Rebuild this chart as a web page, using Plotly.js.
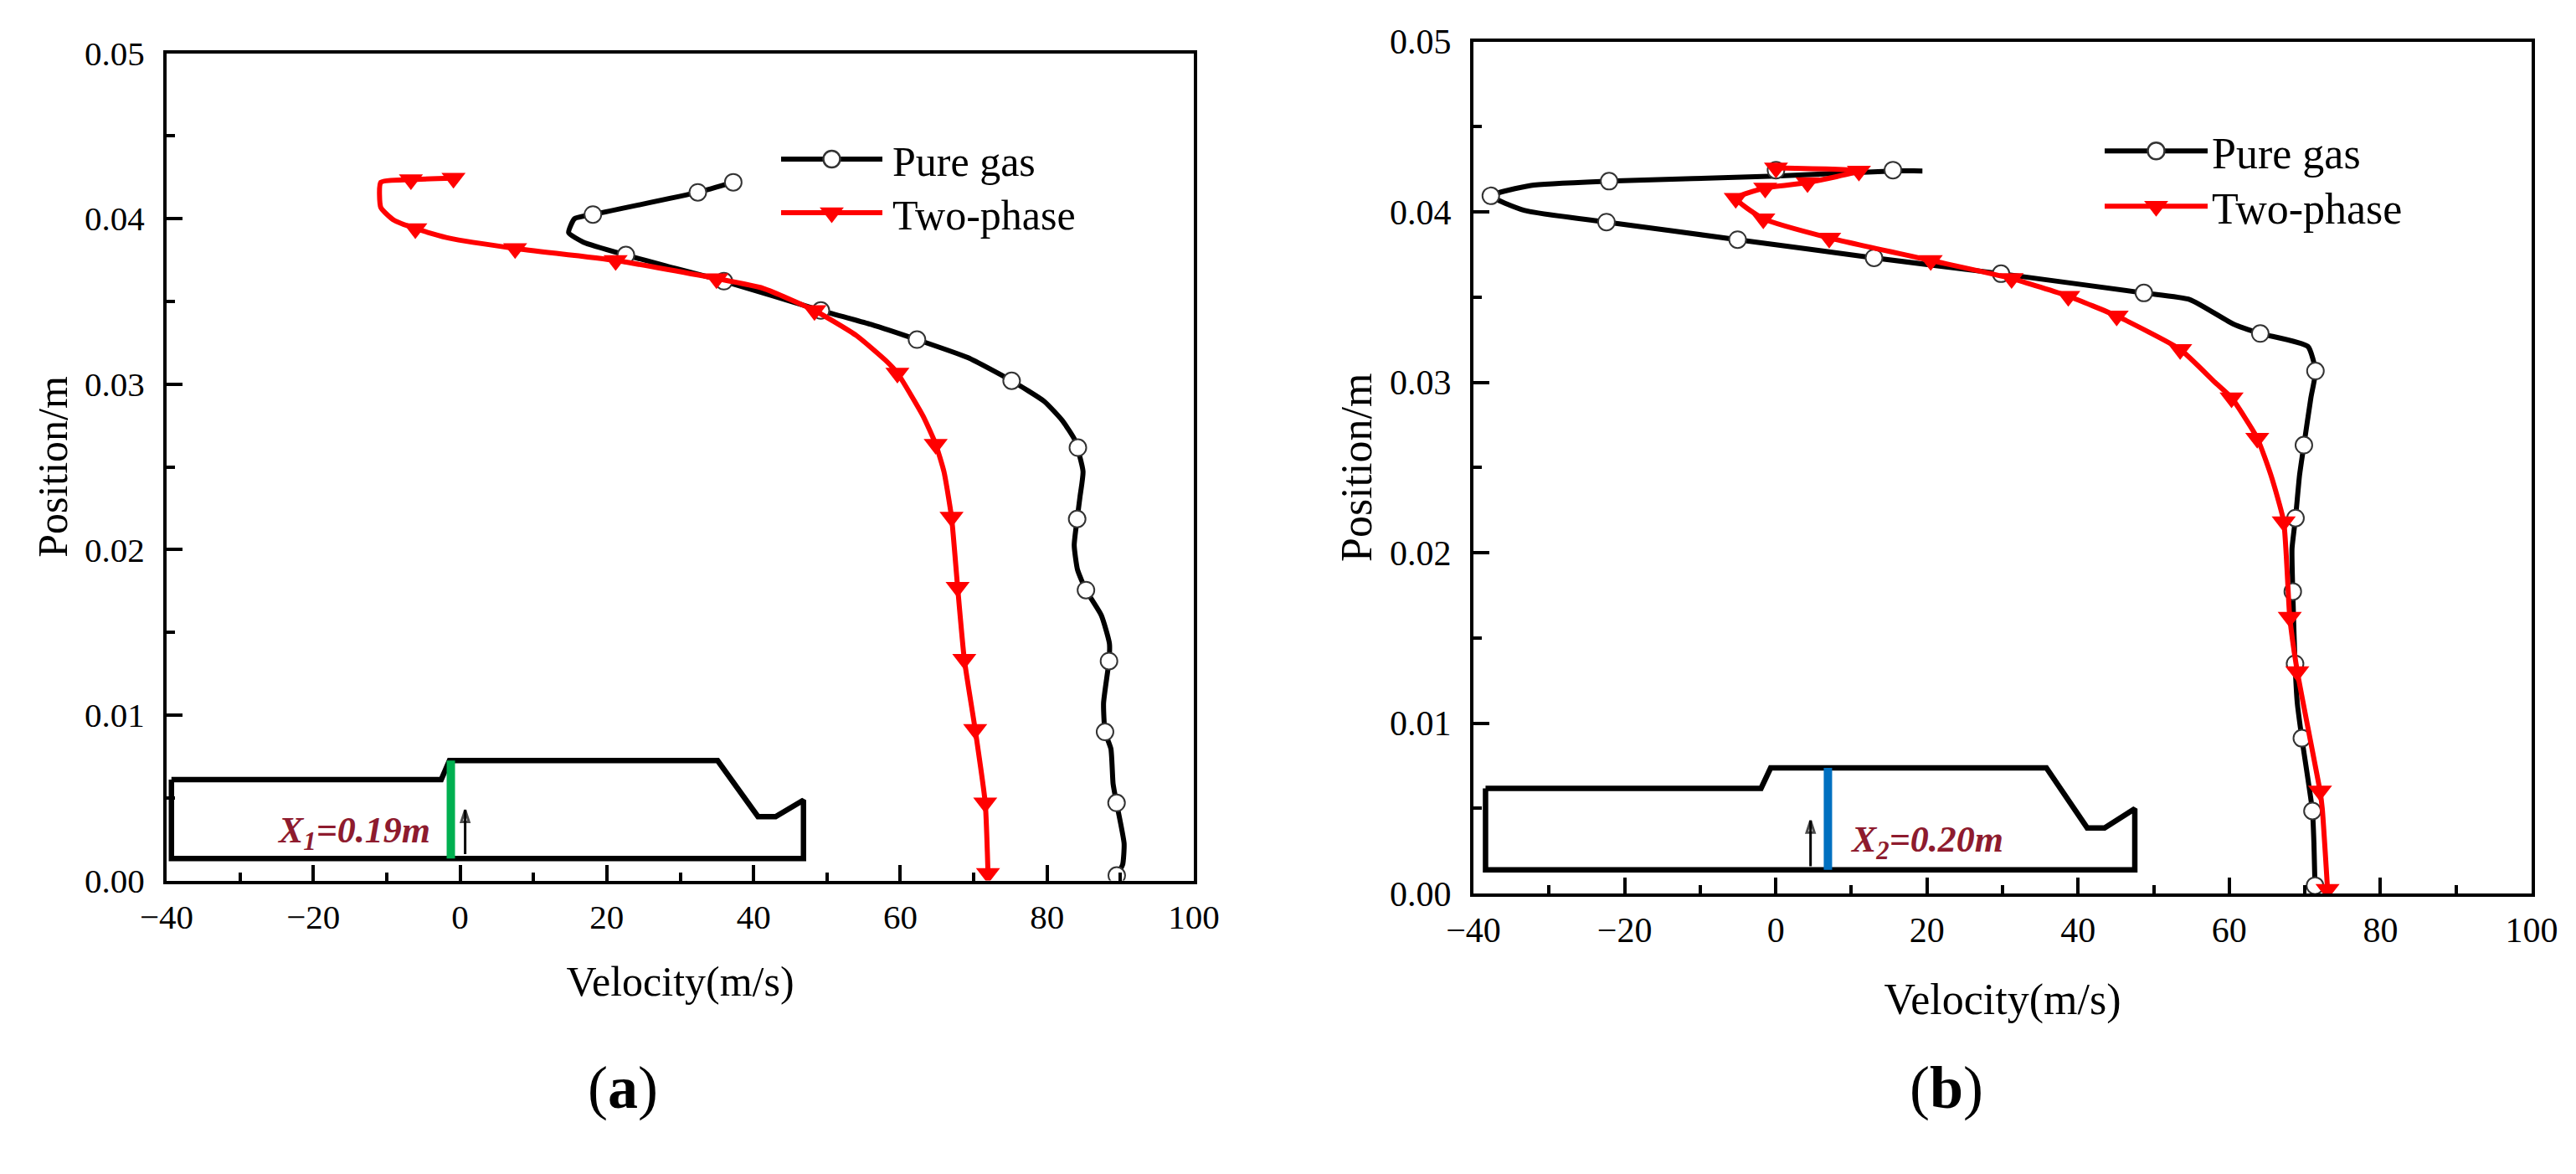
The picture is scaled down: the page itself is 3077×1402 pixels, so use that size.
<!DOCTYPE html>
<html>
<head>
<meta charset="utf-8">
<script src="https://cdn.plot.ly/plotly-3.0.1.min.js"></script>
<style>html,body{margin:0;padding:0;background:#fff}</style>
</head>
<body>
<div id="chart" style="width:3077px;height:1402px"></div>
<script>
// Panel (a): curve outlines
const aGasLineV = [37.23,32.4,18.1,15.6,14.8,16.8,22.6,28.1,35.96,49.17,56,62.27,69.2,75.17,79.6,82.07,83.8,84.9,84.5,84.1,83.7,84.15,85.3,87.4,88.5,88.44,87.7,87.9,88.7,89,89.47,90.5,90.3,89.5];
const aGasLineP = [.0422,.04159,.04025,.04,.03915,.03858,.0378,.03714,.03622,.03445,.03361,.03269,.0316,.0302,.02896,.0278,.0266,.02472,.02323,.02185,.02026,.01878,.01755,.01602,.01432,.01326,.01072,.00898,.00796,.00584,.00469,.00223,.00096,.0003];
const aTwoLineV = [-0.9,-6.7,-10.8,-10.8,-9,-6.1,-1.5,7.5,21.2,34.95,41.3,48.3,54,58,59.6,63.1,64.82,65.95,66.98,67.81,68.72,70.2,71.57,71.95];
const aTwoLineP = [.04245,.04236,.0422,.04067,.0399,.0394,.03882,.0382,.03747,.03638,.03579,.03445,.03294,.03143,.03067,.02807,.02637,.0247,.02196,.01772,.01337,.00913,.0047,.00043];
// Panel (a): symbols
const aGasMarkV = [37.23,32.4,18.1,22.6,35.96,49.17,62.27,75.17,84.2,84.1,85.3,88.44,87.9,89.47,89.5];
const aGasMarkP = [.0422,.04159,.04025,.0378,.03622,.03445,.03269,.0302,.02616,.02185,.01755,.01326,.00898,.00469,.0003];
const aTwoMarkV = [-0.9,-6.7,-6.1,7.5,21.2,34.95,48.3,59.6,64.82,66.98,67.81,68.72,70.2,71.57,71.95];
const aTwoMarkP = [.04245,.04236,.0394,.0382,.03747,.03638,.03445,.03067,.02637,.02196,.01772,.01337,.00913,.0047,.00043];

// Panel (b): curve outlines
const bGasLineV = [19.4,15.5,0,-22.05,-32.4,-37.7,-33.2,-22.4,-5.05,13,29.8,48.7,54.8,60.6,64.1,70.4,71.4,70.8,69.87,69.3,68.76,68.3,68.4,68.7,69,69.6,71,71.2,71.34];
const bGasLineP = [.0424,.0424,.0421,.0418,.04155,.04094,.04008,.0394,.03837,.0373,.03637,.03524,.03485,.0334,.03286,.0321,.03066,.0291,.02631,.02456,.02203,.02023,.01772,.01348,.01117,.00911,.00484,.00293,.00046];
const bTwoLineV = [0.03,11,4.2,-1.4,-5.3,-1.65,7.07,20.5,31.2,38.7,45.1,53.5,58.1,60.3,63.7,65.5,67.2,68,69,72,72.3,73];
const bTwoLineP = [.04258,.0424,.04172,.0414,.0408,.0396,.03847,.03715,.03609,.03505,.03389,.03193,.03,.02909,.02672,.02456,.02182,.01622,.01302,.00602,.00499,.00025];
// Panel (b): symbols
const bGasMarkV = [15.5,0.03,-22.05,-37.7,-22.4,-5.05,13,29.8,48.7,64.1,71.4,69.87,68.76,68.4,68.7,69.6,71,71.34];
const bGasMarkP = [.04245,.04245,.0418,.04094,.0394,.03837,.0373,.03637,.03524,.03286,.03066,.02631,.02203,.01772,.01348,.00911,.00484,.00046];
const bTwoMarkV = [0.03,11,4.2,-1.4,-5.3,-1.65,7.07,20.5,31.2,38.7,45.1,53.5,60.3,63.7,67.2,68,69,72,73];
const bTwoMarkP = [.04258,.0424,.04172,.0414,.0408,.0396,.03847,.03715,.03609,.03505,.03389,.03193,.02909,.02672,.02182,.01622,.01302,.00602,.00025];

// Nozzle schematics
const aNozzleV = [-39.34,-2.57,-1.45,35.1,40.6,43,46.8,46.8,-39.34,-39.34];
const aNozzleP = [.0061,.0061,.00725,.00725,.00386,.00386,.00486,.00133,.00133,.0061];
const bNozzleV = [-38.4,-1.95,-0.68,35.8,41.2,43.5,47.5,47.5,-38.4,-38.4];
const bNozzleP = [.00617,.00617,.00737,.00737,.00385,.00385,.00497,.00139,.00139,.00617];
const aStationV = [-1.26,-1.26], aStationP = [.00725,.00133];
const bStationV = [6.9,6.9], bStationP = [.00737,.00139];
const aArrowV = [.69,.69], aArrowP = [.0016,.00426];
const bArrowV = [4.6,4.6], bArrowP = [.0016,.00428];

const seriesNames = ['Pure gas','Two-phase'];
const xTickVals = [-40,-20,0,20,40,60,80,100];
const yTickVals = [0,.01,.02,.03,.04,.05];

const serif = '"Liberation Serif", "Times New Roman", serif';
const W = 3077, H = 1402;

function lineTrace(x,y,color,xa,ya,width,smooth){
  return {x,y,mode:'lines',type:'scatter',xaxis:xa,yaxis:ya,showlegend:false,hoverinfo:'skip',
          line:smooth?{color,width:width,shape:'spline',smoothing:0.5}:{color,width:width,shape:'linear'}};
}
function arrowTrace(x,y,xa,ya){
  return {x,y,mode:'lines+markers',type:'scatter',xaxis:xa,yaxis:ya,showlegend:false,hoverinfo:'skip',
          line:{color:'#000',width:3},
          marker:{symbol:'arrow-open',size:[0,15],angle:0,color:'#000',line:{color:'#000',width:3}}};
}
function gasMarks(x,y,xa,ya){
  return {x,y,mode:'markers',type:'scatter',xaxis:xa,yaxis:ya,showlegend:false,
          marker:{symbol:'circle',size:20,color:'#fff',line:{color:'#333',width:2}}};
}
function twoMarks(x,y,xa,ya){
  return {x,y,mode:'markers',type:'scatter',xaxis:xa,yaxis:ya,showlegend:false,
          marker:{symbol:'triangle-down',size:25,color:'#ff0000',line:{width:0}}};
}
function key(name,color,marker,xa,ya,legend){
  return {x:[null],y:[null],name,mode:'lines+markers',type:'scatter',xaxis:xa,yaxis:ya,legend,
          line:{color,width:5},marker};
}
const gasKey = {symbol:'circle',size:16,color:'#fff',line:{color:'#333',width:2}};
const twoKey = {symbol:'triangle-down',size:16,color:'#ff0000',line:{width:0}};

const data = [
  lineTrace(aNozzleV,aNozzleP,'#000','x','y',6.5,false),
  lineTrace(aStationV,aStationP,'#00b050','x','y',10,false),
  arrowTrace(aArrowV,aArrowP,'x','y'),
  lineTrace(aGasLineV,aGasLineP,'#000','x','y',6,true),
  gasMarks(aGasMarkV,aGasMarkP,'x','y'),
  lineTrace(aTwoLineV,aTwoLineP,'#ff0000','x','y',6,true),
  twoMarks(aTwoMarkV,aTwoMarkP,'x','y'),
  key(seriesNames[0],'#000',gasKey,'x','y','legend'),
  key(seriesNames[1],'#ff0000',twoKey,'x','y','legend'),

  lineTrace(bNozzleV,bNozzleP,'#000','x2','y2',6.5,false),
  lineTrace(bStationV,bStationP,'#0070c0','x2','y2',10,false),
  arrowTrace(bArrowV,bArrowP,'x2','y2'),
  lineTrace(bGasLineV,bGasLineP,'#000','x2','y2',6,true),
  gasMarks(bGasMarkV,bGasMarkP,'x2','y2'),
  lineTrace(bTwoLineV,bTwoLineP,'#ff0000','x2','y2',6,true),
  twoMarks(bTwoMarkV,bTwoMarkP,'x2','y2'),
  key(seriesNames[0],'#000',gasKey,'x2','y2','legend2'),
  key(seriesNames[1],'#ff0000',twoKey,'x2','y2','legend2')
];

function xAxis(l,r,anchor,size,titleSize,standoff){
  return {domain:[l/W,r/W],range:[-40,100],anchor,tickmode:'array',tickvals:xTickVals,
    ticks:'inside',ticklen:19,tickwidth:4,tickcolor:'#000',showgrid:false,zeroline:false,
    showline:true,linewidth:4,linecolor:'#000',mirror:true,ticklabelstandoff:4,
    tickfont:{family:serif,size,color:'#000'},
    minor:{dtick:10,ticks:'inside',ticklen:10,tickwidth:4,tickcolor:'#000',showgrid:false},
    title:{text:'Velocity(m/s)',font:{family:serif,size:titleSize,color:'#000'},standoff}};
}
function yAxis(t,b,anchor,size,titleSize){
  return {domain:[1-b/H,1-t/H],range:[0,.05],anchor,tickmode:'array',tickvals:yTickVals,tickformat:'.2f',
    ticks:'inside',ticklen:19,tickwidth:4,tickcolor:'#000',showgrid:false,zeroline:false,
    showline:true,linewidth:4,linecolor:'#000',mirror:true,ticklabelstandoff:14,
    tickfont:{family:serif,size,color:'#000'},
    minor:{dtick:.005,ticks:'inside',ticklen:10,tickwidth:4,tickcolor:'#000',showgrid:false},
    title:{text:'Position/m',font:{family:serif,size:titleSize,color:'#000'},standoff:6}};
}
function legendBox(x,y,size,itemwidth){
  return {x:x/W,y:1-y/H,xanchor:'left',yanchor:'top',bgcolor:'rgba(0,0,0,0)',borderwidth:0,
    itemwidth,tracegroupgap:0,font:{family:serif,size,color:'#000'},itemclick:false,itemdoubleclick:false};
}
const wine = '#8e1b2e';
const layout = {
  width:W,height:H,paper_bgcolor:'#fff',plot_bgcolor:'#fff',showlegend:true,
  margin:{l:0,r:0,t:0,b:0,pad:0},
  xaxis:xAxis(199,1426,'y',41,50,38),
  yaxis:yAxis(63.5,1051.5,'x',41,50),
  xaxis2:xAxis(1760,3024,'y2',42,52,42),
  yaxis2:yAxis(49.5,1067,'x2',42,52),
  legend:legendBox(928,151,50,121),
  legend2:legendBox(2509,140,52,123),
  annotations:[
    {xref:'x',yref:'y',x:-14.5,y:.0029,xanchor:'center',text:'<b><i>X<sub>1</sub>=0.19m</i></b>',showarrow:false,font:{family:serif,size:44,color:wine}},
    {xref:'x2',yref:'y2',x:20,y:.0030,xanchor:'center',text:'<b><i>X<sub>2</sub>=0.20m</i></b>',showarrow:false,font:{family:serif,size:44,color:wine}},
    {xref:'paper',yref:'paper',x:744/W,y:1-1341/H,xanchor:'center',text:'(<b>a</b>)',showarrow:false,font:{family:serif,size:72,color:'#000'}},
    {xref:'paper',yref:'paper',x:2325/W,y:1-1341/H,xanchor:'center',text:'(<b>b</b>)',showarrow:false,font:{family:serif,size:72,color:'#000'}}
  ]
};
// Legend fine tuning the library has no option for: key symbol size, row spacing, text gap.
const legendRowGap = {legend:64, legend2:66};
Plotly.newPlot('chart',data,layout,{displayModeBar:false,staticPlot:true}).then(function(){
  document.querySelectorAll('.legendpoints .scatterpts').forEach(function(p,i){
    var t=p.getAttribute('transform')||'';
    p.setAttribute('transform',t+' scale('+(i%2?1.56:1.25)+')');
  });
  document.querySelectorAll('.legendlines path').forEach(function(p){p.style.strokeWidth='6px';});
  document.querySelectorAll('.legendtext').forEach(function(t){
    t.setAttribute('x',(parseFloat(t.getAttribute('x'))||0)+7);
  });
  ['legend','legend2'].forEach(function(id){
    var box=document.querySelector('.'+id), rows=box?box.querySelectorAll('.traces'):[];
    if(rows.length===2){
      var m=/translate\(([-\d.]+),\s*([-\d.]+)\)/.exec(rows[0].getAttribute('transform'));
      if(m) rows[1].setAttribute('transform','translate('+m[1]+','+(parseFloat(m[2])+legendRowGap[id])+')');
    }
  });
});
</script>
</body>
</html>
